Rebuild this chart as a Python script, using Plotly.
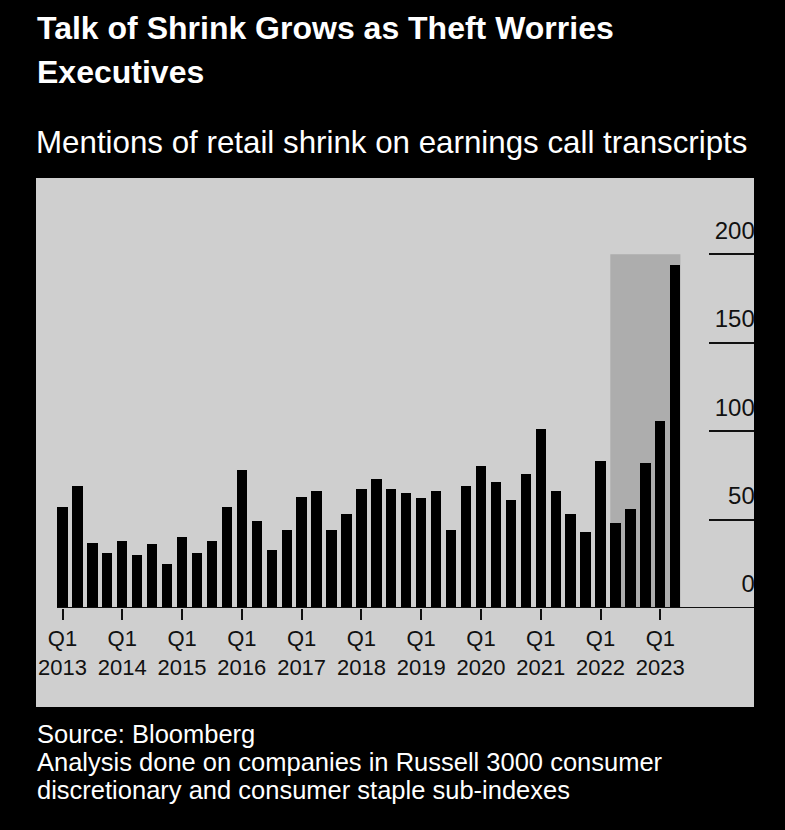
import plotly.graph_objects as go

# ---- data ----
years = list(range(2013, 2024))
quarters = [f"Q{q} {y}" for y in years for q in (1, 2, 3, 4)][:42]  # Q1 2013 .. Q2 2023
mentions = [
    57, 69, 37, 31,    # 2013
    38, 30, 36, 25,    # 2014
    40, 31, 38, 57,    # 2015
    78, 49, 33, 44,    # 2016
    63, 66, 44, 53,    # 2017
    67, 73, 67, 65,    # 2018
    62, 66, 44, 69,    # 2019
    80, 71, 61, 76,    # 2020
    101, 66, 53, 43,   # 2021
    83, 48, 56, 82,    # 2022
    106, 194,          # 2023
]
x_tick_vals = [f"Q1 {y}" for y in years]
x_tick_text = [f"Q1<br>{y}" for y in years]
y_tick_vals = [0, 50, 100, 150, 200]
highlight_start, highlight_end, highlight_top = "Q2 2022", "Q2 2023", 200

title_lines = ["Talk of Shrink Grows as Theft Worries", "Executives"]
subtitle = "Mentions of retail shrink on earnings call transcripts"
footer_lines = [
    "Source: Bloomberg",
    "Analysis done on companies in Russell 3000 consumer",
    "discretionary and consumer staple sub-indexes",
]

# ---- layout geometry ----
W, H = 785, 830
L, R, T, B = 36, 31, 178, 222
PH = H - T - B
FONT = "Liberation Sans, Arial, sans-serif"
BAR_W = 0.69

def py(pixel_y):
    return (H - B - pixel_y) / PH

def px(pixel_x):
    return (pixel_x - L) / (W - L - R)

fig = go.Figure()
fig.add_trace(go.Bar(x=quarters, y=mentions, marker=dict(color="#000000", line=dict(width=0)),
                     width=BAR_W, hoverinfo="x+y"))

x_max = 46.27
i0 = quarters.index(highlight_start)
i1 = quarters.index(highlight_end)

shapes = [
    # gray chart panel
    dict(type="rect", xref="paper", yref="paper", x0=0, x1=1, y0=py(707), y1=1,
         fillcolor="#cfcfcf", line=dict(width=0), layer="below"),
    # highlight
    dict(type="rect", xref="x", yref="y", x0=i0 - BAR_W / 2, x1=i1 + BAR_W / 2,
         y0=0, y1=highlight_top, fillcolor="#adadad", line=dict(width=0), layer="below"),
    # baseline
    dict(type="line", xref="x", yref="y", x0=-BAR_W / 2, x1=x_max, y0=0, y1=0,
         line=dict(color="#111111", width=2), layer="above"),
]

annotations = []
for txt, yp in zip(title_lines, [28, 71.5]):
    annotations.append(dict(text=txt, xref="paper", yref="paper", x=px(35), y=py(yp),
                            xanchor="left", yanchor="middle", showarrow=False,
                            font=dict(family=FONT, size=32, color="#ffffff", weight="bold")))
annotations.append(dict(text=subtitle, xref="paper", yref="paper", x=px(34), y=py(142.5),
                        xanchor="left", yanchor="middle", showarrow=False,
                        font=dict(family=FONT, size=31.3, color="#ffffff")))
for txt, yp in zip(footer_lines, [733.5, 762, 790.5]):
    annotations.append(dict(text=txt, xref="paper", yref="paper", x=px(35), y=py(yp),
                            xanchor="left", yanchor="middle", showarrow=False,
                            font=dict(family=FONT, size=25.5, color="#ffffff")))

fig.update_layout(
    width=W, height=H,
    margin=dict(l=L, r=R, t=T, b=B, pad=0),
    paper_bgcolor="#000000",
    plot_bgcolor="rgba(0,0,0,0)",
    showlegend=False,
    bargap=0,
    shapes=shapes,
    annotations=annotations,
    xaxis=dict(
        type="category", categoryorder="array", categoryarray=quarters,
        range=[-1.773, x_max],
        tickmode="array", tickvals=x_tick_vals, ticktext=x_tick_text,
        ticks="outside", ticklen=11, tickwidth=2, tickcolor="#111111",
        tickfont=dict(family=FONT, size=22, color="#111111"),
        showgrid=False, zeroline=False, showline=False, fixedrange=True,
    ),
    yaxis=dict(
        range=[0, 243.1], side="right",
        tickmode="array", tickvals=y_tick_vals,
        ticks="inside", ticklen=45, tickwidth=2, tickcolor="#111111",
        ticklabelposition="inside", ticklabelshift=-24, ticklabelstandoff=-44,
        tickfont=dict(family=FONT, size=24, color="#111111"),
        showgrid=False, zeroline=False, showline=False, fixedrange=True,
    ),
)

fig.write_html("out.html")
